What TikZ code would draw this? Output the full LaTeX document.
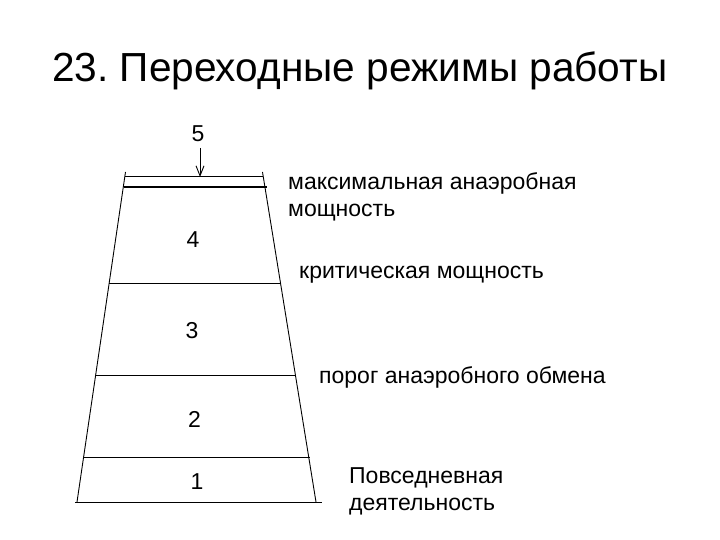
\documentclass[tikz,border=0pt]{standalone}
\usepackage{fontspec}
\setmainfont{Liberation Sans}
\usetikzlibrary{arrows.meta}
\frenchspacing
\begin{document}
\begin{tikzpicture}[x=1pt,y=1pt,
  edge/.style={line width=0.9pt},
  thickedge/.style={line width=2pt},
  num/.style={inner sep=0pt,font=\fontsize{23}{27}\selectfont},
  lbl/.style={inner sep=0pt,anchor=base west,align=left,font=\fontsize{23}{27}\selectfont},
  ttl/.style={inner sep=0pt,anchor=base west,font=\fontsize{40.6}{48}\selectfont}]
\useasboundingbox[fill=white] (0,0) rectangle (720,-540);
% title
\node[ttl] (title) at (52,-82) {23. Переходные режимы работы};
% trapezoid sides
\coordinate (TL) at (125.5,-172);
\coordinate (BL) at (77,-502);
\coordinate (TR) at (262.5,-172);
\coordinate (BR) at (316,-502);
\draw[edge] (TL) -- (BL);
\draw[edge] (TR) -- (BR);
% horizontal levels
\coordinate (h0l) at (125,-176); \coordinate (h0r) at (263,-176);
\coordinate (h1l) at (124,-187); \coordinate (h1r) at (267,-187);
\coordinate (h2l) at (109,-283); \coordinate (h2r) at (281,-283);
\coordinate (h3l) at (95,-375);  \coordinate (h3r) at (296,-375);
\coordinate (h4l) at (83,-457);  \coordinate (h4r) at (310,-457);
\coordinate (h5l) at (75,-502);  \coordinate (h5r) at (322,-502);
\draw[edge] (h0l) -- (h0r);
\draw[thickedge] (h1l) -- (h1r);
\draw[edge] (h2l) -- (h2r);
\draw[edge] (h3l) -- (h3r);
\draw[edge] (h4l) -- (h4r);
\draw[edge] (h5l) -- (h5r);
% numbers
\node[num] (n5) at (198,-134) {5};
\node[num] (n4) at (193,-240) {4};
\node[num] (n3) at (192,-331) {3};
\node[num] (n2) at (194.5,-419) {2};
\node[num] (n1) at (197,-482) {1};
% arrow
\coordinate (aS) at (200,-148);
\coordinate (aE) at (200,-177);
\draw[edge,-{Straight Barb[length=10pt,width=8pt]}] (aS) -- (aE);
% labels (base = baseline of last line)
\node[lbl] (l4) at (288,-217) {максимальная анаэробная\\мощность};
\node[lbl] (l3) at (299,-278) {критическая мощность};
\node[lbl] (l2) at (319,-383) {порог анаэробного обмена};
\node[lbl] (l1) at (349,-510) {Повседневная\\деятельность};
\end{tikzpicture}
\end{document}
